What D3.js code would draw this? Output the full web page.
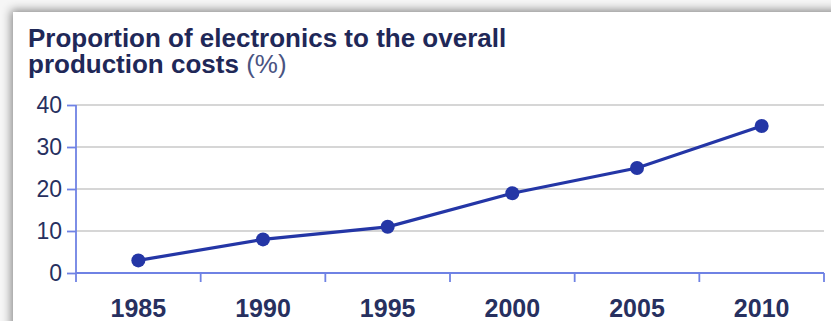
<!DOCTYPE html>
<html>
<head>
<meta charset="utf-8">
<script src="https://cdn.jsdelivr.net/npm/d3@7"></script>
<style>
  body { margin: 0; background: #f6f6f6; overflow: hidden; }
  svg { display: block; }
</style>
</head>
<body>
<div id="chart"></div>
<script>
var svgWidth = 831;
var svgHeight = 321;

// data
var years = ["1985", "1990", "1995", "2000", "2005", "2010"];
var share = [3, 8, 11, 19, 25, 35];
var yTicks = [0, 10, 20, 30, 40];

var data = years.map(function(y, i) { return { year: y, value: share[i] }; });

var svg = d3.select("#chart")
  .append("svg")
  .attr("width", svgWidth)
  .attr("height", svgHeight);

// card with drop shadow
var defs = svg.append("defs");
var f = defs.append("filter").attr("id", "shadow")
  .attr("x", "-10%").attr("y", "-20%").attr("width", "120%").attr("height", "140%");
f.append("feDropShadow")
  .attr("dx", -2).attr("dy", -2)
  .attr("stdDeviation", 5)
  .attr("flood-color", "#000")
  .attr("flood-opacity", 0.45);

svg.append("rect")
  .attr("x", 13).attr("y", 12)
  .attr("width", 900).attr("height", 400)
  .attr("fill", "#fff")
  .attr("filter", "url(#shadow)");

// scales
var x = d3.scaleBand()
  .domain(years)
  .range([76, 824])
  .padding(0);

var y = d3.scaleLinear()
  .domain([0, 40])
  .range([273, 105]);

var axisColor = "#6f82e4";
var navy = "#27305f";

// gridlines
svg.append("g")
  .selectAll("line")
  .data(yTicks.filter(function(d) { return d > 0; }))
  .enter()
  .append("line")
  .attr("x1", 76).attr("x2", 824)
  .attr("y1", function(d) { return y(d); })
  .attr("y2", function(d) { return y(d); })
  .attr("stroke", "#c9c9c9")
  .attr("stroke-width", 1.6);

// y axis
var leftAxis = d3.axisLeft(y).tickValues(yTicks).tickSize(9).tickPadding(5);
var gy = svg.append("g")
  .attr("transform", "translate(76,0)")
  .call(leftAxis);
gy.select(".domain").remove();
gy.append("line")
  .attr("x1", 0).attr("x2", 0)
  .attr("y1", y(40)).attr("y2", 282)
  .attr("stroke", axisColor).attr("stroke-width", 1.8);
gy.selectAll(".tick line").attr("stroke", axisColor).attr("stroke-width", 1.8);
gy.selectAll(".tick text")
  .attr("fill", navy)
  .style("font-family", "'Liberation Sans', Arial, sans-serif")
  .style("font-size", "23px");

// x axis: ticks on band edges, labels in band centres
var gx = svg.append("g").attr("transform", "translate(0,273)");
gx.append("line")
  .attr("x1", 76).attr("x2", 824)
  .attr("stroke", axisColor).attr("stroke-width", 1.8);
var edges = years.map(function(d) { return x(d); }).concat([x.range()[1]]);
gx.selectAll(".edge")
  .data(edges.slice(1))
  .enter()
  .append("line")
  .attr("class", "edge")
  .attr("x1", function(d) { return d; })
  .attr("x2", function(d) { return d; })
  .attr("y1", 0).attr("y2", 9)
  .attr("stroke", axisColor).attr("stroke-width", 1.8);
gx.selectAll("text")
  .data(years)
  .enter()
  .append("text")
  .attr("x", function(d) { return x(d) + x.bandwidth() / 2; })
  .attr("y", 44)
  .attr("text-anchor", "middle")
  .attr("fill", navy)
  .style("font-family", "'Liberation Sans', Arial, sans-serif")
  .style("font-weight", "bold")
  .style("font-size", "25px")
  .text(function(d) { return d; });

// line + dots
var line = d3.line()
  .x(function(d) { return x(d.year) + x.bandwidth() / 2; })
  .y(function(d) { return y(d.value); });

svg.append("path")
  .datum(data)
  .attr("d", line)
  .attr("fill", "none")
  .attr("stroke", "#2436a6")
  .attr("stroke-width", 3.2);

svg.selectAll(".dot")
  .data(data)
  .enter()
  .append("circle")
  .attr("class", "dot")
  .attr("cx", function(d) { return x(d.year) + x.bandwidth() / 2; })
  .attr("cy", function(d) { return y(d.value); })
  .attr("r", 7)
  .attr("fill", "#2436a6");

// title
var title = svg.append("text")
  .style("font-family", "'Liberation Sans', Arial, sans-serif")
  .style("font-size", "26px")
  .attr("fill", "#1f2858");
title.append("tspan")
  .attr("x", 28).attr("y", 47)
  .style("font-weight", "bold")
  .text("Proportion of electronics to the overall");
title.append("tspan")
  .attr("x", 28).attr("y", 73)
  .style("font-weight", "bold")
  .text("production costs");
title.append("tspan")
  .attr("fill", "#4a5482")
  .text(" (%)");
</script>
</body>
</html>
